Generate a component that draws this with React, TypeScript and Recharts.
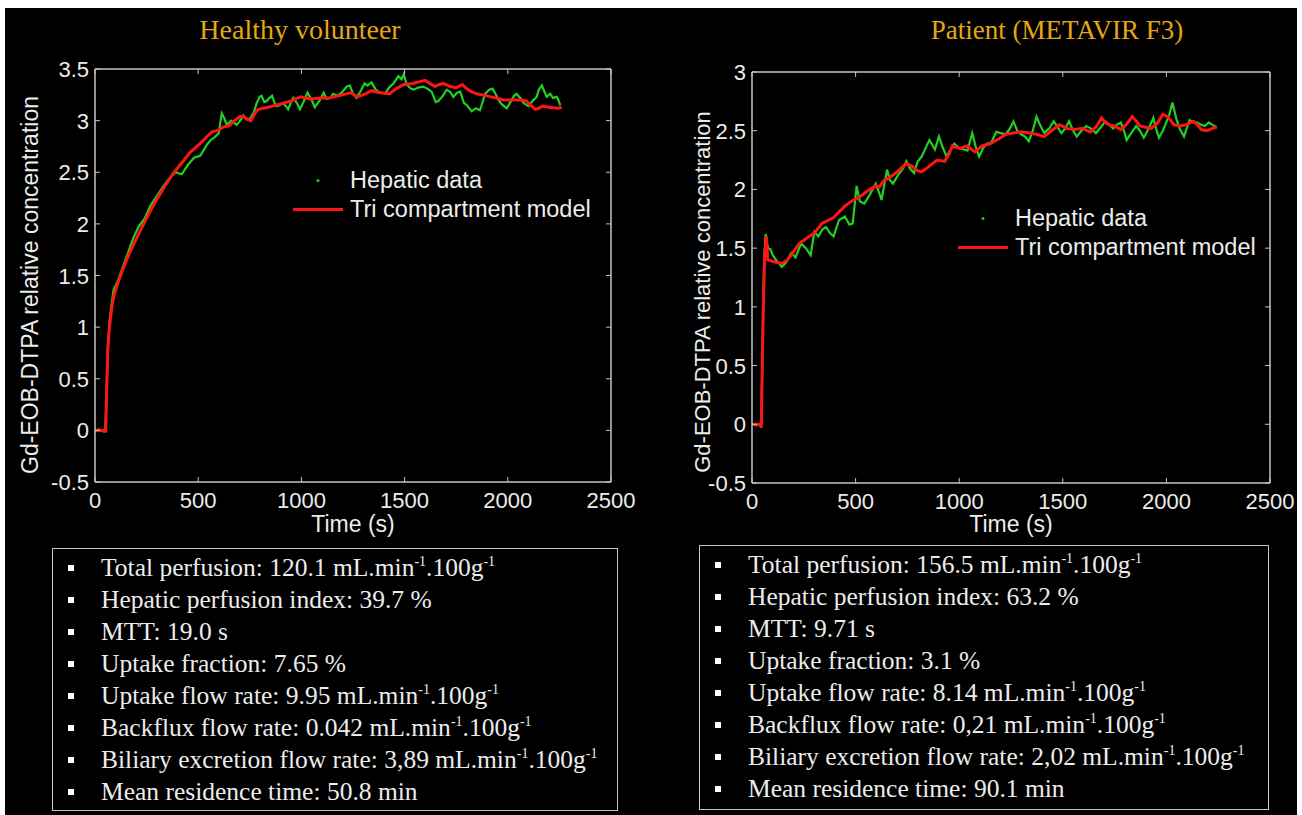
import { LineChart, Line, XAxis, YAxis, Legend } from 'recharts';

// x axis (time, s)
const xTicks = [0, 500, 1000, 1500, 2000, 2500];
const healthyYTicks = [-0.5, 0, 0.5, 1, 1.5, 2, 2.5, 3, 3.5];
const patientYTicks = [-0.5, 0, 0.5, 1, 1.5, 2, 2.5, 3];

// Healthy volunteer - hepatic data (green)
const healthyDataT = [
  0, 20, 40, 50, 56, 62, 70, 80, 90, 100,
  115, 135, 160, 185, 210, 240, 270, 300, 330, 360,
  390, 420, 450, 480, 510, 540, 560, 580, 600, 614,
  625, 638, 660, 686, 700, 719, 735, 751, 770, 783,
  798, 807, 820, 832, 845, 858, 870, 880, 895, 912,
  925, 936, 950, 961, 978, 993, 1010, 1030, 1050, 1065,
  1090, 1108, 1122, 1140, 1154, 1175, 1195, 1220, 1235, 1250,
  1267, 1285, 1306, 1320, 1340, 1360, 1373, 1390, 1405, 1425,
  1446, 1470, 1485, 1496, 1510, 1530, 1545, 1565, 1590, 1610,
  1631, 1651, 1664, 1685, 1704, 1720, 1736, 1754, 1769, 1788,
  1801, 1825, 1845, 1865, 1878, 1890, 1910, 1926, 1940, 1955,
  1970, 1995, 2010, 2030, 2043, 2064, 2076, 2100, 2120, 2140,
  2150, 2165, 2180, 2189, 2205, 2219, 2237, 2245, 2254,
];
const healthyDataV = [
  0, 0.01, -0.01, 0.02, 0.35, 0.8, 1.05, 1.22, 1.36, 1.4,
  1.47, 1.58, 1.72, 1.86, 1.97, 2.05, 2.18, 2.27, 2.36, 2.44,
  2.5, 2.48, 2.57, 2.64, 2.66, 2.76, 2.81, 2.84, 2.88, 3.07,
  3.03, 2.96, 3.0, 2.96, 2.99, 3.05, 3.01, 3.02, 3.08, 3.17,
  3.23, 3.24, 3.18, 3.19, 3.22, 3.24, 3.17, 3.14, 3.15, 3.17,
  3.14, 3.11, 3.18, 3.22, 3.17, 3.11, 3.18, 3.27, 3.2, 3.13,
  3.2, 3.27, 3.21, 3.22, 3.26, 3.24, 3.27, 3.33, 3.34, 3.26,
  3.22, 3.28, 3.36, 3.34, 3.37, 3.3, 3.28, 3.27, 3.26, 3.32,
  3.36, 3.43, 3.4, 3.45, 3.35, 3.31, 3.3, 3.32, 3.33, 3.31,
  3.28, 3.18, 3.19, 3.24, 3.3, 3.28, 3.23, 3.27, 3.28, 3.17,
  3.15, 3.09, 3.12, 3.1, 3.18, 3.26, 3.3, 3.31, 3.26, 3.2,
  3.16, 3.12, 3.17, 3.24, 3.26, 3.21, 3.17, 3.14, 3.19, 3.23,
  3.3, 3.34, 3.27, 3.23, 3.26, 3.22, 3.23, 3.2, 3.15,
];

// Healthy volunteer - tri compartment model (red)
const healthyModelT = [
  0, 30, 48, 52, 56, 62, 68, 74, 82, 91,
  113, 137, 170, 218, 267, 300, 331, 379, 420, 460,
  510, 565, 600, 622, 651, 670, 703, 719, 740, 755,
  775, 791, 840, 893, 950, 996, 1040, 1100, 1134, 1180,
  1237, 1272, 1310, 1340, 1380, 1427, 1460, 1496, 1540, 1599,
  1647, 1668, 1688, 1720, 1750, 1780, 1800, 1823, 1849, 1900,
  1961, 1979, 2020, 2064, 2090, 2110, 2133, 2150, 2168, 2200,
  2245, 2261,
];
const healthyModelV = [
  0, 0, 0, -0.02, 0.35, 0.78, 0.95, 1.07, 1.2, 1.3,
  1.44, 1.57, 1.73, 1.93, 2.12, 2.24, 2.34, 2.49, 2.59, 2.69,
  2.78, 2.89, 2.91, 2.94, 2.95, 2.99, 3.04, 3.04, 3.01, 3.0,
  3.07, 3.11, 3.13, 3.16, 3.19, 3.23, 3.21, 3.22, 3.22, 3.24,
  3.27, 3.23, 3.26, 3.29, 3.27, 3.26, 3.31, 3.35, 3.36, 3.39,
  3.33, 3.35, 3.36, 3.33, 3.32, 3.35, 3.31, 3.28, 3.26, 3.24,
  3.21, 3.2, 3.2, 3.2, 3.19, 3.15, 3.11, 3.12, 3.14, 3.13,
  3.12, 3.13,
];

// Patient (METAVIR F3) - hepatic data (green)
const patientDataT = [
  0, 20, 40, 45, 50, 55, 60, 66, 70, 78,
  89, 100, 116, 130, 144, 165, 190, 210, 237, 260,
  283, 301, 320, 340, 357, 375, 394, 420, 449, 470,
  486, 505, 520, 542, 570, 597, 612, 625, 652, 665,
  680, 708, 730, 745, 762, 782, 800, 819, 840, 856,
  870, 883, 902, 920, 939, 958, 976, 1000, 1022, 1040,
  1063, 1080, 1096, 1115, 1133, 1155, 1179, 1200, 1225, 1245,
  1262, 1280, 1299, 1318, 1336, 1355, 1373, 1390, 1410, 1435,
  1456, 1475, 1493, 1512, 1530, 1550, 1567, 1590, 1613, 1635,
  1660, 1683, 1706, 1725, 1743, 1760, 1780, 1795, 1808, 1830,
  1854, 1872, 1891, 1915, 1937, 1950, 1964, 1983, 2001, 2015,
  2029, 2048, 2066, 2085, 2100, 2112, 2130, 2149, 2168, 2186,
  2205, 2223, 2242,
];
const patientDataV = [
  0, -0.01, 0, 0.02, 0.5, 1.1, 1.45, 1.62, 1.55, 1.5,
  1.49, 1.44, 1.4, 1.37, 1.34, 1.38, 1.46, 1.42, 1.54, 1.5,
  1.44, 1.64, 1.6, 1.66, 1.68, 1.63, 1.6, 1.74, 1.77, 1.7,
  1.71, 2.03, 1.9, 1.88, 1.96, 2.05, 1.98, 1.91, 2.17, 2.08,
  2.05, 2.13, 2.18, 2.24, 2.18, 2.14, 2.24, 2.28, 2.36, 2.42,
  2.38, 2.34, 2.45, 2.36, 2.28, 2.34, 2.39, 2.35, 2.34, 2.33,
  2.48, 2.36, 2.28, 2.35, 2.39, 2.4, 2.49, 2.48, 2.47, 2.52,
  2.58, 2.5, 2.47, 2.45, 2.41, 2.5, 2.62, 2.55, 2.48, 2.52,
  2.58, 2.53, 2.48, 2.52, 2.58, 2.5, 2.45, 2.5, 2.54, 2.52,
  2.48, 2.53, 2.58, 2.55, 2.52, 2.55, 2.57, 2.5, 2.42, 2.48,
  2.54, 2.5, 2.44, 2.52, 2.61, 2.52, 2.44, 2.5, 2.58, 2.64,
  2.74, 2.6, 2.51, 2.45, 2.53, 2.59, 2.57, 2.57, 2.55, 2.54,
  2.57, 2.55, 2.53,
];

// Patient (METAVIR F3) - tri compartment model (red)
const patientModelT = [
  0, 30, 42, 45, 48, 54, 61, 70, 76, 95,
  116, 144, 170, 190, 227, 260, 301, 338, 394, 449,
  480, 523, 560, 597, 615, 634, 671, 700, 745, 770,
  800, 819, 850, 893, 930, 950, 967, 1000, 1040, 1060,
  1077, 1110, 1151, 1190, 1225, 1260, 1299, 1340, 1373, 1410,
  1445, 1484, 1520, 1558, 1595, 1632, 1660, 1687, 1705, 1724,
  1750, 1780, 1810, 1835, 1855, 1872, 1900, 1927, 1955, 1983,
  2005, 2038, 2066, 2094, 2131, 2150, 2168, 2195, 2223, 2242,
];
const patientModelV = [
  0, 0, -0.01, -0.03, 0.35, 0.97, 1.43, 1.6, 1.4, 1.39,
  1.38, 1.37, 1.4, 1.44, 1.54, 1.58, 1.63, 1.71, 1.76, 1.86,
  1.9, 1.94, 1.99, 2.03, 2.02, 2.07, 2.11, 2.15, 2.22, 2.2,
  2.16, 2.15, 2.19, 2.25, 2.24, 2.3, 2.37, 2.35, 2.37, 2.34,
  2.32, 2.37, 2.39, 2.43, 2.47, 2.48, 2.49, 2.48, 2.47, 2.45,
  2.5, 2.55, 2.52, 2.51, 2.52, 2.49, 2.53, 2.61, 2.57, 2.55,
  2.54, 2.51, 2.56, 2.62, 2.58, 2.54, 2.53, 2.52, 2.56, 2.64,
  2.62, 2.55, 2.54, 2.55, 2.58, 2.55, 2.51, 2.5, 2.52, 2.53,
];

// parameter boxes
const paramLabels = [
  'Total perfusion',
  'Hepatic perfusion index',
  'MTT',
  'Uptake fraction',
  'Uptake flow rate',
  'Backflux flow rate',
  'Biliary excretion flow rate',
  'Mean residence time',
];
const paramUnits = ['flow', '%', 's', '%', 'flow', 'flow', 'flow', 'min'];
const healthyParams = ['120.1', '39.7', '19.0', '7.65', '9.95', '0.042', '3,89', '50.8'];
const patientParams = ['156.5', '63.2', '9.71', '3.1', '8.14', '0,21', '2,02', '90.1'];

const AXIS = '#c4c4c4';
const TXT = '#ececec';
const GREEN = '#22d022';
const RED = '#ff1414';
const GOLD = '#e4a614';
const SANS = "'Liberation Sans', Arial, sans-serif";
const SERIF = "'Liberation Serif', 'Times New Roman', serif";

const toPoints = (t: number[], v: number[]) => t.map((x, i) => ({ t: x, v: v[i] }));

// axes have 1px size (recharts skips zero-size axes); tickSize/tickMargin 0 puts the
// tick anchor exactly on the frame, the inward marks are drawn here
const BottomTick = (p: any) => (
  <g>
    <line x1={p.x} y1={p.y} x2={p.x} y2={p.y - 5} stroke={AXIS} />
    <text x={p.x} y={p.y + 26} textAnchor="middle" fill={TXT} fontSize={22} fontFamily={SANS}>
      {p.payload.value}
    </text>
  </g>
);
const TopTick = (p: any) => <line x1={p.x} y1={p.y} x2={p.x} y2={p.y + 5} stroke={AXIS} />;
const LeftTick = (p: any) => (
  <g>
    <line x1={p.x} y1={p.y} x2={p.x + 5} y2={p.y} stroke={AXIS} />
    <text x={p.x - 6} y={p.y + 8} textAnchor="end" fill={TXT} fontSize={22} fontFamily={SANS}>
      {p.payload.value}
    </text>
  </g>
);
const RightTick = (p: any) => <line x1={p.x} y1={p.y} x2={p.x - 5} y2={p.y} stroke={AXIS} />;

const renderLegend = (props: any) => (
  <div>
    {props.payload.map((e: any) => (
      <div key={e.value} style={{ display: 'flex', alignItems: 'center', height: 29 }}>
        <svg width={50} height={29}>
          {e.type === 'circle' ? (
            <circle cx={25} cy={14.5} r={1.5} fill={e.color} />
          ) : (
            <line x1={0} x2={50} y1={14.5} y2={14.5} stroke={e.color} strokeWidth={3} />
          )}
        </svg>
        <span style={{ marginLeft: 7, color: TXT, fontFamily: SANS, fontSize: 23.5, lineHeight: '29px' }}>
          {e.value}
        </span>
      </div>
    ))}
  </div>
);

type PanelProps = {
  left: number;
  margin: { top: number; left: number; right: number; bottom: number };
  yMax: number;
  yTicks: number[];
  data: { t: number; v: number }[];
  model: { t: number; v: number }[];
  legendPos: { left: number; top: number };
};

function Panel({ left, margin, yMax, yTicks, data, model, legendPos }: PanelProps) {
  const axisLine = { stroke: AXIS, strokeWidth: 1.5 };
  return (
    <div style={{ position: 'absolute', left, top: 0 }}>
      <LineChart width={640} height={530} margin={margin}>
        <XAxis xAxisId="b" type="number" dataKey="t" domain={[0, 2500]} ticks={xTicks} allowDataOverflow
          height={1} tickSize={0} tickMargin={0} interval={0} tickLine={false} axisLine={axisLine} tick={BottomTick} />
        <XAxis xAxisId="t" orientation="top" type="number" dataKey="t" domain={[0, 2500]} ticks={xTicks} allowDataOverflow
          height={1} tickSize={0} tickMargin={0} interval={0} tickLine={false} axisLine={axisLine} tick={TopTick} />
        <YAxis yAxisId="l" type="number" domain={[-0.5, yMax]} ticks={yTicks} allowDataOverflow
          width={1} tickSize={0} tickMargin={0} interval={0} tickLine={false} axisLine={axisLine} tick={LeftTick} />
        <YAxis yAxisId="r" orientation="right" type="number" domain={[-0.5, yMax]} ticks={yTicks} allowDataOverflow
          width={1} tickSize={0} tickMargin={0} interval={0} tickLine={false} axisLine={axisLine} tick={RightTick} />
        <Line xAxisId="b" yAxisId="l" data={data} dataKey="v" name="Hepatic data" stroke={GREEN}
          strokeWidth={2.2} dot={false} legendType="circle" isAnimationActive={false} />
        <Line xAxisId="b" yAxisId="l" data={model} dataKey="v" name="Tri compartment model" stroke={RED}
          strokeWidth={3} dot={false} legendType="line" isAnimationActive={false} />
        <Legend content={renderLegend} layout="vertical" align="center" verticalAlign="middle"
          wrapperStyle={{ left: legendPos.left, top: legendPos.top, width: 330 }} />
      </LineChart>
    </div>
  );
}

function ParamBox({ left, top, width, height, values }: { left: number; top: number; width: number; height: number; values: string[] }) {
  const sup = { fontSize: 14, lineHeight: 0, position: 'relative' as const, top: -10, verticalAlign: 'baseline' };
  return (
    <div style={{ position: 'absolute', left, top, width, height, border: `1.5px solid ${AXIS}`, boxSizing: 'border-box', paddingTop: 3 }}>
      {paramLabels.map((lab, i) => (
        <div key={lab} style={{ position: 'relative', height: 32, lineHeight: '32px', color: TXT, fontFamily: SERIF, fontSize: 25.5, whiteSpace: 'nowrap' }}>
          <span style={{ position: 'absolute', left: 15, top: 13, width: 6, height: 6, background: '#fff' }} />
          <span style={{ position: 'absolute', left: 48 }}>
            {lab}: {values[i]}{' '}
            {paramUnits[i] === 'flow' ? (
              <>mL.min<span style={sup}>-1</span>.100g<span style={sup}>-1</span></>
            ) : (
              paramUnits[i]
            )}
          </span>
        </div>
      ))}
    </div>
  );
}

const yLabel = 'Gd-EOB-DTPA relative concentration';

export default function App() {
  const text = (s: any) => ({ position: 'absolute' as const, textAlign: 'center' as const, whiteSpace: 'nowrap' as const, ...s });
  return (
    <div style={{ position: 'absolute', left: 0, top: 0, width: 1302, height: 815, background: '#fff', overflow: 'hidden' }}>
      <div style={{ position: 'absolute', left: 5, top: 8, width: 1292, height: 807, background: '#000' }} />

      <div style={text({ left: 100, top: 14, width: 400, fontFamily: SERIF, fontSize: 28, lineHeight: '32px', color: GOLD })}>
        Healthy volunteer
      </div>
      <div style={text({ left: 857, top: 14, width: 400, fontFamily: SERIF, fontSize: 27, lineHeight: '32px', color: GOLD })}>
        Patient (METAVIR F3)
      </div>

      <Panel left={0} margin={{ top: 68, left: 94, right: 28, bottom: 47 }} yMax={3.5} yTicks={healthyYTicks}
        data={toPoints(healthyDataT, healthyDataV)} model={toPoints(healthyModelT, healthyModelV)}
        legendPos={{ left: 293, top: 166 }} />
      <Panel left={660} margin={{ top: 71, left: 91, right: 29, bottom: 46 }} yMax={3} yTicks={patientYTicks}
        data={toPoints(patientDataT, patientDataV)} model={toPoints(patientModelT, patientModelV)}
        legendPos={{ left: 298, top: 204 }} />

      <div style={text({ left: 30 - 250, top: 285 - 15, width: 500, height: 30, lineHeight: '30px', fontFamily: SANS, fontSize: 23, color: TXT, transform: 'rotate(-90deg)' })}>
        {yLabel}
      </div>
      <div style={text({ left: 703 - 250, top: 292 - 15, width: 500, height: 30, lineHeight: '30px', fontFamily: SANS, fontSize: 22, color: TXT, transform: 'rotate(-90deg)' })}>
        {yLabel}
      </div>
      <div style={text({ left: 253, top: 509, width: 200, lineHeight: '30px', fontFamily: SANS, fontSize: 23, color: TXT })}>
        Time (s)
      </div>
      <div style={text({ left: 911, top: 509, width: 200, lineHeight: '30px', fontFamily: SANS, fontSize: 23, color: TXT })}>
        Time (s)
      </div>

      <ParamBox left={52} top={548} width={566} height={263} values={healthyParams} />
      <ParamBox left={699} top={545} width={570} height={265} values={patientParams} />
    </div>
  );
}
